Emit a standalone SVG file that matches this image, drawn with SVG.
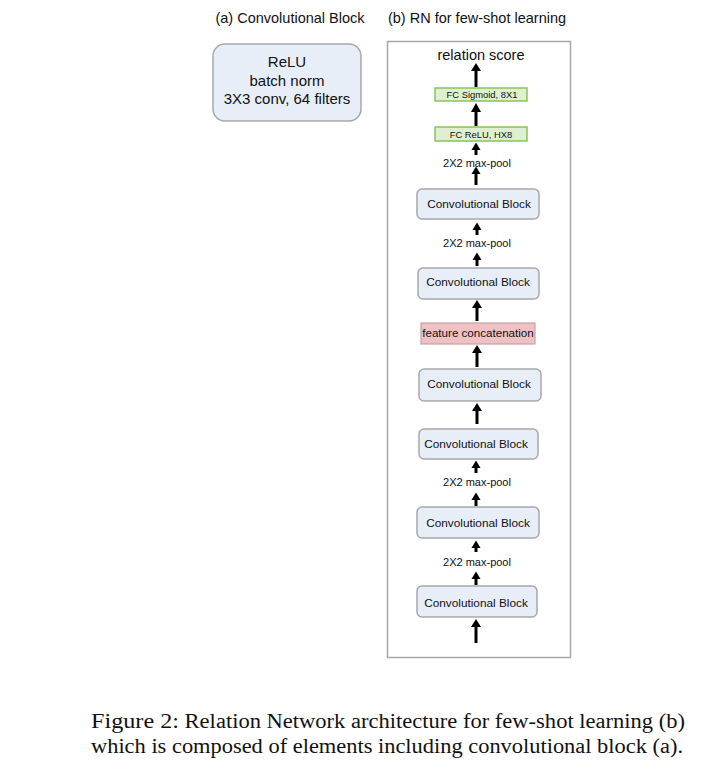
<svg xmlns="http://www.w3.org/2000/svg" width="723" height="770" viewBox="0 0 723 770">
<defs>
<style>
.t{font-family:"Liberation Sans",Arial,sans-serif;fill:#111;text-anchor:middle}
.cb{fill:#e7eef8;stroke:#a8a8a8;stroke-width:1.5}
.fc{fill:#def0cf;stroke:#86c65a;stroke-width:1.5}
.fcat{fill:#efc1c3;stroke:#c4a3a3;stroke-width:1.2}
.sh{stroke:#000;stroke-width:3;fill:none}
.hd{fill:#000;stroke:none}
.cap{font-family:"Liberation Serif","Times New Roman",serif;fill:#111}
</style>
</defs>
<rect width="723" height="770" fill="#fff"/>
<text class="t" x="290" y="23" font-size="14.5">(a) Convolutional Block</text>
<text class="t" x="477" y="23" font-size="14.5">(b) RN for few-shot learning</text>
<g id="conv-block-detail">
<rect class="cb" x="213" y="44" width="148" height="77" rx="12"/>
<text class="t" x="287" y="67" font-size="15">ReLU</text>
<text class="t" x="287" y="86" font-size="15">batch norm</text>
<text class="t" x="287" y="104" font-size="15">3X3 conv, 64 filters</text>
</g>
<g id="rn-frame">
<rect x="387.5" y="41.5" width="183" height="616" fill="none" stroke="#a8a8a8" stroke-width="1.5"/>
</g>
<g id="relation-score"><text class="t" x="481" y="60" font-size="14.5">relation score</text></g>
<g id="fc-sigmoid">
<rect class="fc" x="435" y="88" width="92" height="13"/>
<text class="t" x="482" y="98" font-size="9.4">FC Sigmoid,  8X1</text>
</g>
<g id="fc-relu">
<rect class="fc" x="435" y="127" width="92" height="14"/>
<text class="t" x="481" y="137.5" font-size="9.4">FC ReLU, HX8</text>
</g>
<g id="pool1"><text class="t" x="477" y="167" font-size="11">2X2 max-pool</text></g>
<g id="conv1">
<rect class="cb" x="417" y="189" width="122" height="30" rx="5"/>
<text class="t" x="479" y="208" font-size="11.8">Convolutional Block</text>
</g>
<g id="pool2"><text class="t" x="477" y="247" font-size="11">2X2 max-pool</text></g>
<g id="conv2">
<rect class="cb" x="418" y="268" width="121" height="31" rx="5"/>
<text class="t" x="478" y="286" font-size="11.8">Convolutional Block</text>
</g>
<g id="feature-concat">
<rect class="fcat" x="421" y="323" width="114" height="21"/>
<text class="t" x="478" y="337" font-size="11.6">feature concatenation</text>
</g>
<g id="conv3">
<rect class="cb" x="419" y="369" width="122" height="32" rx="5"/>
<text class="t" x="479" y="388" font-size="11.8">Convolutional Block</text>
</g>
<g id="conv4">
<rect class="cb" x="419" y="429" width="119" height="30" rx="5"/>
<text class="t" x="476" y="448" font-size="11.8">Convolutional Block</text>
</g>
<g id="pool3"><text class="t" x="477" y="486" font-size="11">2X2 max-pool</text></g>
<g id="conv5">
<rect class="cb" x="417" y="507" width="122" height="31" rx="5"/>
<text class="t" x="478" y="527" font-size="11.8">Convolutional Block</text>
</g>
<g id="pool4"><text class="t" x="477" y="566" font-size="11">2X2 max-pool</text></g>
<g id="conv6">
<rect class="cb" x="417" y="586" width="120" height="31" rx="5"/>
<text class="t" x="476" y="607" font-size="11.8">Convolutional Block</text>
</g>
<g id="connectors">
<g><path class="sh" d="M476,87 V69"/><path class="hd" d="M471,71 L476,63 L481,71 z"/></g>
<g><path class="sh" d="M476,126 V110"/><path class="hd" d="M471,112 L476,103 L481,112 z"/></g>
<g><path class="sh" d="M476,155 V148"/><path class="hd" d="M471.5,150 L476,142.5 L480.5,150 z"/></g>
<g><path class="sh" d="M476,185 V172"/><path class="hd" d="M471.5,174 L476,166.5 L480.5,174 z"/></g>
<g><path class="sh" d="M477,235 V228"/><path class="hd" d="M472.5,230 L477,222.5 L481.5,230 z"/></g>
<g><path class="sh" d="M477,266 V258"/><path class="hd" d="M472.5,260 L477,252.5 L481.5,260 z"/></g>
<g><path class="sh" d="M477,321 V306"/><path class="hd" d="M472,308 L477,300 L482,308 z"/></g>
<g><path class="sh" d="M477,367 V351"/><path class="hd" d="M472,353 L477,345 L482,353 z"/></g>
<g><path class="sh" d="M477,424 V409"/><path class="hd" d="M472,411 L477,403 L482,411 z"/></g>
<g><path class="sh" d="M476,473 V466"/><path class="hd" d="M471.5,468 L476,460.5 L480.5,468 z"/></g>
<g><path class="sh" d="M476,506 V498"/><path class="hd" d="M471.5,500 L476,492.5 L480.5,500 z"/></g>
<g><path class="sh" d="M476,552 V546"/><path class="hd" d="M471.5,548 L476,540.5 L480.5,548 z"/></g>
<g><path class="sh" d="M476,585 V577"/><path class="hd" d="M471.5,579 L476,571.5 L480.5,579 z"/></g>
<g><path class="sh" d="M476,643 V625"/><path class="hd" d="M471,627 L476,619 L481,627 z"/></g>
</g>
<g id="caption">
<text class="cap" x="91" y="728" font-size="20.5" textLength="594" lengthAdjust="spacingAndGlyphs"><tspan font-size="22">Figure 2:</tspan> Relation Network architecture for few-shot learning (b)</text>
<text class="cap" x="91" y="753" font-size="20.5" textLength="592" lengthAdjust="spacingAndGlyphs">which is composed of elements including convolutional block (a).</text>
</g>
</svg>
